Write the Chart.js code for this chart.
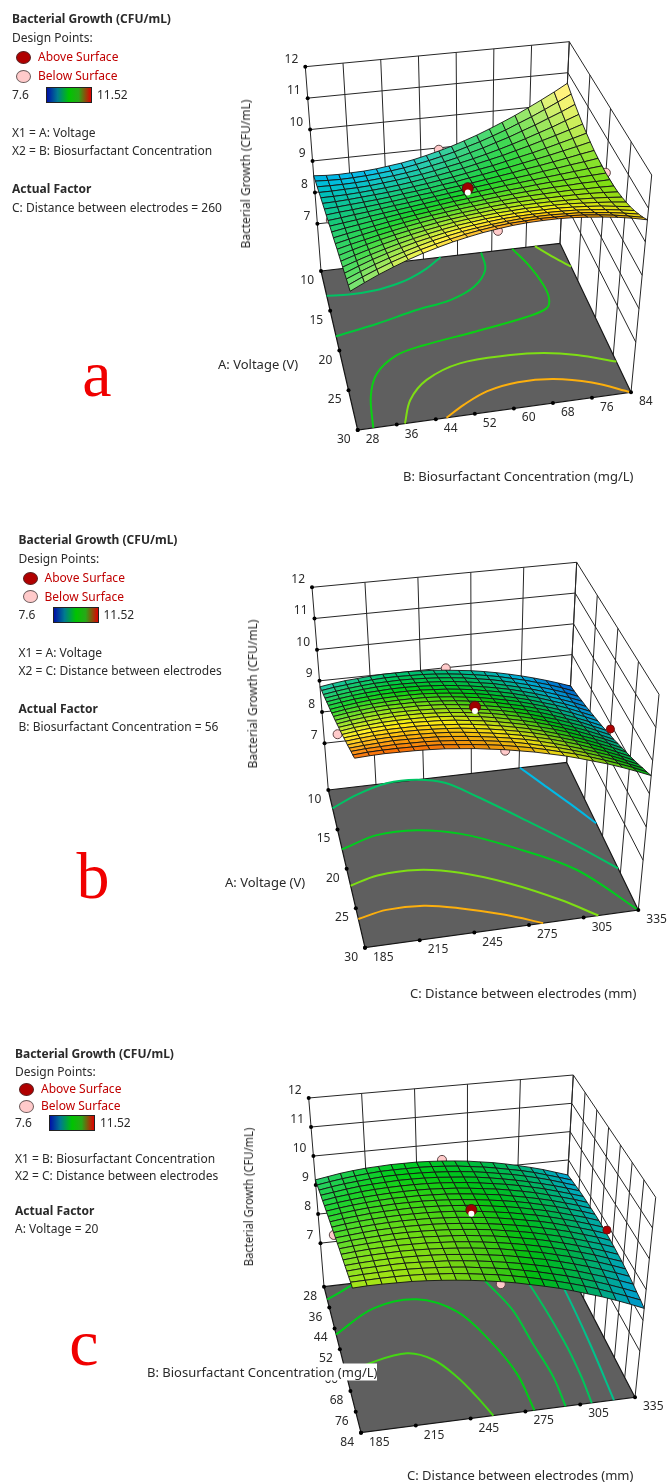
<!doctype html>
<html lang="en">
	<head>
		<meta charset="UTF-8" />
		<title>Bacterial Growth response surfaces</title>
		<script src="https://cdn.jsdelivr.net/npm/chart.js"></script>
		<style>
			html,
			body {
				margin: 0;
				background: #fff;
			}
			#page {
				position: relative;
				width: 670px;
				height: 1482px;
				overflow: hidden;
			}
			canvas {
				position: absolute;
				left: 0;
			}
			.txt {
				position: absolute;
				white-space: nowrap;
				line-height: 1;
				font-family: 'Noto Sans', sans-serif;
				font-size: 12px;
				color: #2a2a2a;
			}
			.mark {
				position: absolute;
				border-radius: 50%;
				box-sizing: border-box;
				width: 15px;
				height: 13px;
			}
			.bar {
				position: absolute;
				box-sizing: border-box;
				width: 46px;
				height: 16px;
				border: 1px solid #222;
				background: linear-gradient(90deg, #0010a8, #007a90 24%, #00c400 50%, #28a818 72%, #e00000);
			}
		</style>
	</head>
	<body>
		<div id="page"></div>

		<script>
			const zTicks = [7, 8, 9, 10, 11, 12]
			const voltageTicks = [10, 15, 20, 25, 30]
			const biosurfactantTicks = [28, 36, 44, 52, 60, 68, 76, 84]
			const distanceTicks = [185, 215, 245, 275, 305, 335]
			const colorRange = [7.6, 11.52]
			const colorStops = [7.6, 8.58, 9.1, 9.56, 10.45, 11.52]

			const legendTitle = 'Bacterial Growth (CFU/mL)'
			const zTitle = 'Bacterial Growth (CFU/mL)'
			const factorsA = ['X1 = A: Voltage', 'X2 = B: Biosurfactant Concentration', 'C: Distance between electrodes = 260']
			const factorsB = ['X1 = A: Voltage', 'X2 = C: Distance between electrodes', 'B: Biosurfactant Concentration = 56']
			const factorsC = ['X1 = B: Biosurfactant Concentration', 'X2 = C: Distance between electrodes', 'A: Voltage = 20']

			// Bacterial growth, rows front to back axis, columns along the floor's long axis
			const surfaceA = [
				[8.53,8.50,8.49,8.50,8.51,8.54,8.59,8.64,8.71,8.80,8.90,9.01,9.14,9.28,9.44,9.61,9.79,9.99,10.20,10.42,10.66],
				[8.60,8.58,8.57,8.58,8.60,8.63,8.67,8.72,8.79,8.87,8.96,9.06,9.18,9.30,9.44,9.59,9.76,9.93,10.12,10.32,10.53],
				[8.66,8.65,8.65,8.66,8.68,8.71,8.75,8.80,8.86,8.94,9.02,9.11,9.22,9.33,9.46,9.59,9.74,9.89,10.06,10.23,10.42],
				[8.72,8.72,8.73,8.74,8.76,8.80,8.84,8.89,8.94,9.01,9.09,9.17,9.26,9.36,9.47,9.59,9.72,9.86,10.00,10.16,10.32],
				[8.79,8.79,8.80,8.82,8.85,8.88,8.92,8.97,9.03,9.09,9.16,9.23,9.32,9.41,9.50,9.61,9.72,9.84,9.96,10.09,10.23],
				[8.85,8.86,8.88,8.91,8.94,8.97,9.01,9.06,9.11,9.17,9.23,9.30,9.38,9.45,9.54,9.63,9.72,9.82,9.93,10.04,10.16],
				[8.91,8.93,8.96,8.99,9.02,9.06,9.11,9.15,9.20,9.26,9.31,9.38,9.44,9.51,9.58,9.66,9.74,9.82,9.91,10.00,10.10],
				[8.96,9.00,9.03,9.07,9.11,9.15,9.20,9.25,9.29,9.35,9.40,9.45,9.51,9.57,9.63,9.70,9.76,9.83,9.90,9.98,10.05],
				[9.02,9.06,9.11,9.15,9.20,9.25,9.29,9.34,9.39,9.44,9.49,9.54,9.59,9.64,9.69,9.74,9.80,9.85,9.91,9.96,10.02],
				[9.08,9.13,9.18,9.24,9.29,9.34,9.39,9.44,9.49,9.54,9.58,9.63,9.67,9.72,9.76,9.80,9.84,9.88,9.92,9.96,10.00],
				[9.13,9.20,9.26,9.32,9.38,9.44,9.49,9.54,9.59,9.64,9.68,9.72,9.76,9.80,9.83,9.87,9.90,9.92,9.95,9.97,9.99],
				[9.18,9.26,9.33,9.40,9.47,9.53,9.59,9.64,9.69,9.74,9.78,9.82,9.86,9.89,9.92,9.94,9.96,9.97,9.99,9.99,10.00],
				[9.23,9.32,9.41,9.49,9.56,9.63,9.69,9.75,9.80,9.85,9.89,9.93,9.96,9.99,10.01,10.02,10.03,10.04,10.03,10.03,10.02],
				[9.29,9.39,9.48,9.57,9.65,9.73,9.80,9.86,9.91,9.96,10.00,10.04,10.07,10.09,10.10,10.11,10.11,10.11,10.10,10.08,10.05],
				[9.33,9.45,9.56,9.66,9.75,9.83,9.90,9.97,10.03,10.08,10.12,10.16,10.18,10.20,10.21,10.21,10.20,10.19,10.17,10.14,10.10],
				[9.38,9.51,9.63,9.74,9.84,9.93,10.01,10.08,10.15,10.20,10.24,10.28,10.30,10.32,10.32,10.32,10.31,10.28,10.25,10.21,10.16],
				[9.43,9.57,9.70,9.82,9.93,10.03,10.12,10.20,10.27,10.32,10.37,10.40,10.43,10.44,10.44,10.44,10.42,10.39,10.35,10.29,10.23],
				[9.47,9.63,9.78,9.91,10.03,10.14,10.23,10.32,10.39,10.45,10.50,10.54,10.56,10.57,10.57,10.56,10.54,10.50,10.45,10.39,10.32],
				[9.52,9.69,9.85,9.99,10.12,10.24,10.35,10.44,10.52,10.58,10.63,10.67,10.70,10.71,10.71,10.69,10.67,10.62,10.57,10.50,10.42],
				[9.56,9.75,9.92,10.08,10.22,10.35,10.46,10.56,10.65,10.72,10.78,10.82,10.84,10.86,10.85,10.84,10.81,10.76,10.70,10.62,10.53],
				[9.60,9.80,9.99,10.16,10.32,10.46,10.58,10.69,10.78,10.86,10.92,10.97,11.00,11.01,11.01,10.99,10.95,10.90,10.84,10.76,10.66]
			]
			const surfaceB = [
				[8.81,8.87,8.92,8.95,8.98,9.00,9.00,9.00,8.98,8.96,8.92,8.87,8.82,8.75,8.67,8.58,8.48,8.37,8.25,8.12,7.98],
				[8.93,8.99,9.03,9.07,9.10,9.12,9.12,9.11,9.10,9.07,9.03,8.98,8.92,8.85,8.77,8.67,8.57,8.45,8.33,8.19,8.04],
				[9.04,9.10,9.15,9.19,9.22,9.23,9.24,9.23,9.21,9.18,9.14,9.09,9.02,8.95,8.86,8.76,8.65,8.53,8.40,8.26,8.10],
				[9.16,9.22,9.27,9.31,9.34,9.35,9.35,9.34,9.32,9.29,9.25,9.19,9.12,9.05,8.95,8.85,8.74,8.61,8.47,8.33,8.17],
				[9.28,9.34,9.39,9.43,9.45,9.47,9.47,9.46,9.43,9.40,9.35,9.29,9.22,9.14,9.05,8.94,8.82,8.69,8.55,8.40,8.23],
				[9.40,9.46,9.51,9.54,9.57,9.58,9.58,9.57,9.54,9.51,9.46,9.40,9.32,9.24,9.14,9.03,8.91,8.77,8.63,8.47,8.30],
				[9.51,9.57,9.62,9.66,9.68,9.69,9.69,9.68,9.65,9.61,9.56,9.50,9.42,9.33,9.23,9.12,8.99,8.86,8.71,8.54,8.37],
				[9.63,9.69,9.74,9.77,9.79,9.80,9.80,9.79,9.76,9.72,9.66,9.60,9.52,9.43,9.33,9.21,9.08,8.94,8.79,8.62,8.44],
				[9.75,9.81,9.85,9.89,9.91,9.91,9.91,9.89,9.86,9.82,9.76,9.70,9.62,9.52,9.42,9.30,9.17,9.02,8.86,8.69,8.51],
				[9.86,9.92,9.97,10.00,10.02,10.02,10.02,10.00,9.97,9.92,9.86,9.79,9.71,9.62,9.51,9.39,9.25,9.10,8.95,8.77,8.59],
				[9.98,10.04,10.08,10.11,10.13,10.13,10.12,10.10,10.07,10.02,9.96,9.89,9.81,9.71,9.60,9.47,9.34,9.19,9.03,8.85,8.67],
				[10.10,10.15,10.19,10.22,10.24,10.24,10.23,10.20,10.17,10.12,10.06,9.99,9.90,9.80,9.69,9.56,9.42,9.27,9.11,8.93,8.74],
				[10.21,10.27,10.30,10.33,10.34,10.34,10.33,10.31,10.27,10.22,10.16,10.08,9.99,9.89,9.78,9.65,9.51,9.36,9.19,9.02,8.83],
				[10.33,10.38,10.42,10.44,10.45,10.45,10.43,10.41,10.37,10.31,10.25,10.17,10.08,9.98,9.86,9.74,9.60,9.44,9.28,9.10,8.91],
				[10.45,10.49,10.53,10.55,10.55,10.55,10.53,10.50,10.46,10.41,10.34,10.26,10.17,10.07,9.95,9.82,9.68,9.53,9.36,9.19,9.00],
				[10.57,10.61,10.64,10.65,10.66,10.65,10.63,10.60,10.56,10.50,10.43,10.35,10.26,10.16,10.04,9.91,9.77,9.62,9.45,9.27,9.08],
				[10.68,10.72,10.75,10.76,10.76,10.75,10.73,10.70,10.65,10.59,10.52,10.44,10.35,10.24,10.13,10.00,9.86,9.70,9.54,9.36,9.17],
				[10.80,10.83,10.85,10.87,10.86,10.85,10.83,10.79,10.74,10.68,10.61,10.53,10.44,10.33,10.21,10.08,9.94,9.79,9.63,9.45,9.26],
				[10.92,10.95,10.96,10.97,10.96,10.95,10.92,10.88,10.83,10.77,10.70,10.62,10.52,10.41,10.30,10.17,10.03,9.88,9.72,9.54,9.36],
				[11.03,11.06,11.07,11.07,11.06,11.05,11.02,10.97,10.92,10.86,10.79,10.70,10.61,10.50,10.38,10.26,10.12,9.97,9.81,9.64,9.45],
				[11.15,11.17,11.18,11.17,11.16,11.14,11.11,11.06,11.01,10.94,10.87,10.78,10.69,10.58,10.47,10.34,10.20,10.06,9.90,9.73,9.55]
			]
			const surfaceC = [
				[9.18,9.25,9.32,9.37,9.41,9.43,9.45,9.45,9.45,9.43,9.40,9.36,9.31,9.24,9.17,9.08,8.98,8.87,8.75,8.61,8.47],
				[9.24,9.31,9.37,9.42,9.46,9.49,9.50,9.50,9.50,9.48,9.45,9.41,9.35,9.29,9.21,9.12,9.03,8.92,8.79,8.66,8.52],
				[9.30,9.37,9.43,9.47,9.51,9.54,9.55,9.55,9.54,9.52,9.49,9.45,9.40,9.33,9.25,9.17,9.07,8.96,8.84,8.70,8.56],
				[9.36,9.42,9.48,9.53,9.56,9.58,9.60,9.60,9.59,9.57,9.53,9.49,9.44,9.37,9.29,9.20,9.10,8.99,8.87,8.74,8.60],
				[9.41,9.48,9.53,9.58,9.61,9.63,9.64,9.64,9.63,9.61,9.57,9.53,9.47,9.40,9.33,9.24,9.14,9.03,8.90,8.77,8.63],
				[9.47,9.53,9.58,9.62,9.65,9.67,9.68,9.68,9.67,9.64,9.61,9.56,9.50,9.44,9.36,9.27,9.17,9.05,8.93,8.80,8.65],
				[9.52,9.58,9.63,9.67,9.70,9.72,9.72,9.72,9.70,9.68,9.64,9.59,9.53,9.47,9.38,9.29,9.19,9.08,8.95,8.82,8.67],
				[9.57,9.63,9.68,9.72,9.74,9.76,9.76,9.76,9.74,9.71,9.67,9.62,9.56,9.49,9.41,9.32,9.21,9.10,8.97,8.84,8.69],
				[9.62,9.68,9.72,9.76,9.78,9.79,9.80,9.79,9.77,9.74,9.70,9.65,9.58,9.51,9.43,9.33,9.23,9.11,8.98,8.85,8.70],
				[9.67,9.73,9.77,9.80,9.82,9.83,9.83,9.82,9.80,9.77,9.72,9.67,9.60,9.53,9.44,9.35,9.24,9.12,8.99,8.85,8.70],
				[9.72,9.77,9.81,9.84,9.86,9.87,9.86,9.85,9.82,9.79,9.74,9.69,9.62,9.54,9.45,9.36,9.25,9.12,8.99,8.85,8.70],
				[9.77,9.81,9.85,9.88,9.89,9.90,9.89,9.88,9.85,9.81,9.76,9.70,9.63,9.55,9.46,9.36,9.25,9.13,8.99,8.85,8.69],
				[9.81,9.86,9.89,9.91,9.93,9.93,9.92,9.90,9.87,9.83,9.78,9.72,9.64,9.56,9.47,9.36,9.25,9.12,8.98,8.84,8.68],
				[9.86,9.90,9.93,9.95,9.96,9.96,9.95,9.92,9.89,9.85,9.79,9.73,9.65,9.56,9.47,9.36,9.24,9.11,8.97,8.82,8.66],
				[9.90,9.94,9.97,9.98,9.99,9.98,9.97,9.94,9.91,9.86,9.80,9.73,9.65,9.56,9.46,9.35,9.23,9.10,8.96,8.80,8.64],
				[9.94,9.98,10.00,10.01,10.02,10.01,9.99,9.96,9.92,9.87,9.81,9.74,9.65,9.56,9.46,9.34,9.22,9.08,8.94,8.78,8.61],
				[9.98,10.01,10.03,10.04,10.04,10.03,10.01,9.98,9.93,9.88,9.81,9.74,9.65,9.55,9.45,9.33,9.20,9.06,8.91,8.75,8.58],
				[10.02,10.05,10.06,10.07,10.07,10.05,10.02,9.99,9.94,9.88,9.81,9.73,9.64,9.54,9.43,9.31,9.18,9.03,8.88,8.71,8.54],
				[10.06,10.08,10.09,10.10,10.09,10.07,10.04,10.00,9.95,9.88,9.81,9.73,9.63,9.53,9.41,9.29,9.15,9.00,8.84,8.67,8.49],
				[10.10,10.11,10.12,10.12,10.11,10.09,10.05,10.01,9.95,9.88,9.81,9.72,9.62,9.51,9.39,9.26,9.12,8.97,8.80,8.63,8.45],
				[10.13,10.15,10.15,10.14,10.13,10.10,10.06,10.01,9.95,9.88,9.80,9.71,9.60,9.49,9.37,9.23,9.08,8.93,8.76,8.58,8.39]
			]

			// Floor contours: [share along first factor, share along second factor]
			const contourLevelsA = [9.1, 9.35, 9.6, 10.0, 10.0, 10.8]
			const contoursA = [
				[[.155,0],[.165,.09],[.158,.2],[.135,.29],[.11,.35],[.06,.43],[0,.5]],
				[[.41,0],[.365,.17],[.31,.34],[.275,.48],[.21,.59],[.11,.66],[0,.67]],
				[[1,.057],[.805,.076],[.67,.12],[.575,.21],[.535,.32],[.49,.535],[.44,.745],[.4,.835],[.34,.86],[.25,.861],[.125,.84],[0,.8]],
				[[0,.895],[.085,.95],[.157,1]],
				[[1,.173],[.86,.215],[.75,.295],[.675,.435],[.665,.63],[.68,.755],[.72,.87],[.794,1]],
				[[1,.325],[.935,.4],[.87,.5],[.84,.62],[.85,.75],[.905,.88],[1,1]]
			]
			const contourLevelsB = [8.55, 9.1, 9.5, 10.0, 10.8]
			const contoursB = [
				[[0,.804],[.125,.867],[.265,.935],[.413,1]],
				[[.116,0],[.05,.11],[0,.245],[0,.37],[.04,.48],[.15,.587],[.34,.742],[.535,.885],[.718,1]],
				[[.376,0],[.315,.148],[.315,.308],[.37,.469],[.49,.64],[.69,.847],[1,1]],
				[[.607,0],[.565,.11],[.563,.265],[.615,.42],[.725,.59],[.868,.745],[1,.854]],
				[[.818,0],[.785,.11],[.79,.25],[.835,.375],[.915,.53],[1,.652]]
			]
			const contourLevelsC = [9.5, 9.55, 9.8, 9.35, 9.15, 8.95]
			const contoursC = [
				[[.087,0],[.055,.05],[0,.13]],
				[[.327,0],[.183,.174],[.157,.355],[.272,.495],[.49,.575],[.735,.625],[1,.633]],
				[[.6,0],[.545,.1],[.51,.25],[.575,.34],[.71,.405],[.86,.45],[1,.483]],
				[[0,.63],[.095,.655],[.305,.71],[.55,.73],[.79,.75],[1,.747]],
				[[0,.79],[.15,.82],[.55,.848],[.8,.85],[1,.842]],
				[[.05,.94],[.21,.945],[.6,.938],[1,.923]]
			]

			// Design points: [first factor, second factor, growth]
			const belowPointsA = [[20,28,9.5],[10,56,8.94],[30,56,10.86],[20,84,10]]
			const sidePointsA = []
			const abovePointsA = [[20,56,10.0]]
			const centerPointsA = [[20,56,9.87]]
			const belowPointsB = [[20,185,9.66],[10,260,8.98],[30,260,10.84]]
			const sidePointsB = [[20,335,8.85]]
			const abovePointsB = [[20,260,10.03]]
			const centerPointsB = [[20,260,9.9]]
			const belowPointsC = [[56,185,9.64],[28,260,9.44],[84,260,9.72]]
			const sidePointsC = [[56,335,8.82]]
			const abovePointsC = [[56,260,9.99]]
			const centerPointsC = [[56,260,9.86]]

			const Z_MIN = 5.5
			const Z_MAX = 12

			const page = document.getElementById('page')

			// Cube corners of each plot on the page
			const panels = [
				{
					top: 0, bottom: 500,
					bl: [321, 271], br: [560, 243.3], fl: [357.7, 430], fr: [631, 392.3],
					tbl: [305.3, 66.7], tbr: [569.3, 41.7], tfl: [345.7, 210], tfr: [651.7, 175],
					surface: surfaceA, contours: contoursA, levels: contourLevelsA,
					below: belowPointsA, side: sidePointsA, above: abovePointsA, center: centerPointsA,
					uTicks: voltageTicks, vTicks: biosurfactantTicks,
					factors: factorsA, letter: 'a', letterAt: [97, 374],
					legendX: 12, legendY: [19, 38, 57, 76, 95, 133, 151, 189, 208],
					zTitleAt: [246, 174], zScale: 1,
					uTitle: 'A: Voltage (V)', uTitleAt: [218, 364],
					vTitle: 'B: Biosurfactant Concentration (mg/L)', vTitleAt: [403, 476]
				},
				{
					top: 500, bottom: 1010,
					bl: [328.3, 790], br: [566.7, 762.3], fl: [365, 947.7], fr: [638.3, 910],
					tbl: [312, 587.3], tbr: [576.7, 562.3], tfl: [353, 729.7], tfr: [659, 694.3],
					surface: surfaceB, contours: contoursB, levels: contourLevelsB,
					below: belowPointsB, side: sidePointsB, above: abovePointsB, center: centerPointsB,
					uTicks: voltageTicks, vTicks: distanceTicks,
					factors: factorsB, letter: 'b', letterAt: [93, 876],
					legendX: 18.5, legendY: [539.7, 558.7, 578, 596.7, 615, 653, 671, 709, 727],
					zTitleAt: [252.7, 694], zScale: 1,
					uTitle: 'A: Voltage (V)', uTitleAt: [225, 882],
					vTitle: 'C: Distance between electrodes (mm)', vTitleAt: [410, 993]
				},
				{
					top: 1010, bottom: 1482,
					bl: [324, 1286.7], br: [563, 1259], fl: [361, 1432.7], fr: [635, 1397.3],
					tbl: [308.7, 1098], tbr: [573.3, 1075], tfl: [349, 1229.7], tfr: [655.7, 1197.3],
					surface: surfaceC, contours: contoursC, levels: contourLevelsC,
					below: belowPointsC, side: sidePointsC, above: abovePointsC, center: centerPointsC,
					uTicks: biosurfactantTicks, vTicks: distanceTicks,
					factors: factorsC, letter: 'c', letterAt: [84, 1343],
					legendX: 15, legendY: [1054, 1071.7, 1089, 1106, 1123, 1159, 1176, 1211, 1229],
					zTitleAt: [249, 1197], zScale: 0.93,
					uTitle: 'B: Biosurfactant Concentration (mg/L)', uTitleAt: [147, 1372], uTitleBox: true,
					vTitle: 'C: Distance between electrodes (mm)', vTitleAt: [407, 1475]
				}
			]

			function lerp(a, b, t) {
				return a + (b - a) * t
			}

			function bilinear(a, b, c, d, u, v, i) {
				return lerp(lerp(a[i], b[i], v), lerp(c[i], d[i], v), u)
			}

			// u: 0 at the back of the floor, v: 0 at the left, z in growth units
			function project(p, u, v, z) {
				const w = (z - Z_MIN) / (Z_MAX - Z_MIN)
				return {
					x: lerp(bilinear(p.bl, p.br, p.fl, p.fr, u, v, 0), bilinear(p.tbl, p.tbr, p.tfl, p.tfr, u, v, 0), w),
					y: lerp(bilinear(p.bl, p.br, p.fl, p.fr, u, v, 1), bilinear(p.tbl, p.tbr, p.tfl, p.tfr, u, v, 1), w)
				}
			}

			function share(value, ticks) {
				return (value - ticks[0]) / (ticks[ticks.length - 1] - ticks[0])
			}

			function rampColor(z) {
				const ramp = [[0, 50, 235], [0, 190, 230], [0, 195, 100], [0, 205, 20], [255, 240, 20], [245, 40, 0]]
				let i = 0
				while (i < colorStops.length - 2 && z > colorStops[i + 1]) i++
				const t = Math.min(1, Math.max(0, (z - colorStops[i]) / (colorStops[i + 1] - colorStops[i])))
				return ramp[i].map((c, k) => lerp(c, ramp[i + 1][k], t))
			}

			// Surface lighting: faces turned left go pale, faces turned right go a little darker
			function litColor(z, slope) {
				const rgb = rampColor(z).map((c) =>
					slope > 0 ? c + (255 - c) * Math.min(0.45, 0.1 * slope) : c * Math.max(0.85, 1 + 0.04 * slope)
				)
				return `rgb(${rgb.map(Math.round).join(',')})`
			}

			function lineSet(points, color, width, tension) {
				return {
					data: points, showLine: true, borderColor: color, borderWidth: width,
					pointRadius: 0, tension: tension || 0, fill: false, clip: false
				}
			}

			function polygonSet(points, fillColor, lineColor, width) {
				return {
					data: points.concat([points[0]]), showLine: true, borderColor: lineColor, borderWidth: width,
					backgroundColor: fillColor, fill: 'shape', pointRadius: 0, clip: false
				}
			}

			function dotSet(points, color, edge, radius) {
				return {
					data: points, showLine: false, pointRadius: radius, pointBackgroundColor: color,
					pointBorderColor: edge, pointBorderWidth: edge === color ? 0 : 1, clip: false
				}
			}

			function buildDatasets(p) {
				const sets = []
				const wallColor = '#262626'
				const zTop = zTicks[zTicks.length - 1]

				// walls
				p.vTicks.forEach((t) => {
					const v = share(t, p.vTicks)
					sets.push(lineSet([project(p, 0, v, Z_MIN), project(p, 0, v, zTop)], wallColor, 1))
				})
				p.uTicks.forEach((t) => {
					const u = share(t, p.uTicks)
					sets.push(lineSet([project(p, u, 1, Z_MIN), project(p, u, 1, zTop)], wallColor, 1))
				})
				zTicks.forEach((z) => {
					sets.push(lineSet([project(p, 0, 0, z), project(p, 0, 1, z), project(p, 1, 1, z)], wallColor, 1))
				})

				// floor and its contours
				sets.push(polygonSet(
					[project(p, 0, 0, Z_MIN), project(p, 0, 1, Z_MIN), project(p, 1, 1, Z_MIN), project(p, 1, 0, Z_MIN)],
					'#5f5f5f', '#161616', 1.2
				))
				p.contours.forEach((path, i) => {
					const points = path.map(([u, v]) => project(p, u, v, Z_MIN))
					sets.push(lineSet(points, `rgb(${rampColor(p.levels[i]).map(Math.round).join(',')})`, 2, 0.35))
				})

				// tick dots
				const dots = zTicks.map((z) => project(p, 0, 0, z))
				p.uTicks.forEach((t) => dots.push(project(p, share(t, p.uTicks), 0, Z_MIN)))
				p.vTicks.forEach((t) => dots.push(project(p, 1, share(t, p.vTicks), Z_MIN)))
				sets.push(dotSet(dots, '#000', '#000', 2))

				const toPoint = ([a, b, z]) => project(p, share(a, p.uTicks), share(b, p.vTicks), z)

				sets.push(dotSet(p.below.map(toPoint), '#ffcaca', '#5c4444', 4.5))

				// surface mesh, back rows first
				const rows = p.surface.length - 1
				for (let i = 0; i < rows; i++) {
					const cols = p.surface[i].length - 1
					for (let j = 0; j < cols; j++) {
						const a = p.surface[i][j]
						const b = p.surface[i][j + 1]
						const c = p.surface[i + 1][j + 1]
						const d = p.surface[i + 1][j]
						const slope = ((b + c - a - d) / 2) * cols
						sets.push(polygonSet(
							[
								project(p, i / rows, j / cols, a),
								project(p, i / rows, (j + 1) / cols, b),
								project(p, (i + 1) / rows, (j + 1) / cols, c),
								project(p, (i + 1) / rows, j / cols, d)
							],
							litColor((a + b + c + d) / 4, slope), '#141414', 0.9
						))
					}
				}

				sets.push(dotSet(p.side.map(toPoint), '#b00000', '#6a1010', 4))
				sets.push(dotSet(p.above.map(toPoint), '#a00000', '#4c1010', 5.5))
				sets.push(dotSet(p.center.map(toPoint), '#ffffff', '#ffffff', 3))

				// later entries paint on top
				sets.forEach((set, i) => {
					set.order = sets.length - i
				})
				return sets
			}

			function addText(text, x, y, opts = {}) {
				const el = document.createElement('div')
				el.className = 'txt'
				el.textContent = text
				el.style.left = `${x}px`
				el.style.top = `${y}px`
				el.style.transform = opts.transform || 'translateY(-50%)'
				if (opts.bold) el.style.fontWeight = '700'
				if (opts.color) el.style.color = opts.color
				if (opts.size) el.style.fontSize = `${opts.size}px`
				if (opts.box) el.style.background = '#fff'
				if (opts.box) el.style.padding = '2px 0'
				page.appendChild(el)
				return el
			}

			function addLegend(p) {
				const x = p.legendX
				const y = p.legendY
				addText(legendTitle, x, y[0], { bold: true })
				addText('Design Points:', x, y[1])
				;[['#b00000', '#5a2020', 'Above Surface'], ['#ffcaca', '#6a5a5a', 'Below Surface']].forEach((row, i) => {
					const mark = document.createElement('div')
					mark.className = 'mark'
					mark.style.left = `${x + 4}px`
					mark.style.top = `${y[2 + i] - 6.5}px`
					mark.style.background = row[0]
					mark.style.border = `1px solid ${row[1]}`
					page.appendChild(mark)
					addText(row[2], x + 26, y[2 + i], { color: '#c00000' })
				})
				addText(String(colorRange[0]), x, y[4])
				const bar = document.createElement('div')
				bar.className = 'bar'
				bar.style.left = `${x + 34}px`
				bar.style.top = `${y[4] - 8}px`
				page.appendChild(bar)
				addText(String(colorRange[1]), x + 85, y[4])
				addText(p.factors[0], x, y[5])
				addText(p.factors[1], x, y[6])
				addText('Actual Factor', x, y[7], { bold: true })
				addText(p.factors[2], x, y[8])
			}

			function addAxisText(chart, p) {
				const sx = chart.scales.x
				const sy = chart.scales.y
				const at = (pt) => [sx.getPixelForValue(pt.x), sy.getPixelForValue(pt.y) + p.top]
				const endAlign = 'translate(-100%,-50%)'

				zTicks.forEach((z) => {
					const [x, y] = at(project(p, 0, 0, z))
					addText(String(z), x - 7, y - 8, { transform: endAlign })
				})
				p.uTicks.forEach((t) => {
					const [x, y] = at(project(p, share(t, p.uTicks), 0, Z_MIN))
					addText(String(t), x - 7, y + 9, { transform: endAlign })
				})
				p.vTicks.forEach((t) => {
					const [x, y] = at(project(p, 1, share(t, p.vTicks), Z_MIN))
					addText(String(t), x + 8, y + 9)
				})

				addText(zTitle, p.zTitleAt[0], p.zTitleAt[1], {
					transform: `translate(-50%,-50%) rotate(-90deg) scaleX(${p.zScale})`
				})
				addText(p.uTitle, p.uTitleAt[0], p.uTitleAt[1], { box: p.uTitleBox, size: 13 })
				addText(p.vTitle, p.vTitleAt[0], p.vTitleAt[1], { size: 13 })

				addText(p.letter, p.letterAt[0], p.letterAt[1], {
					transform: 'translate(-50%,-50%)', color: '#f00000', size: 66
				}).style.fontFamily = "'Liberation Serif', serif"
			}

			panels.forEach((p) => {
				const canvas = document.createElement('canvas')
				const height = p.bottom - p.top
				canvas.width = 670
				canvas.height = height
				canvas.style.top = `${p.top}px`
				canvas.style.width = '670px'
				canvas.style.height = `${height}px`
				page.appendChild(canvas)

				const chart = new Chart(canvas.getContext('2d'), {
					type: 'scatter',
					data: { datasets: buildDatasets(p) },
					options: {
						responsive: false,
						animation: false,
						devicePixelRatio: 1,
						events: [],
						layout: { padding: 0, autoPadding: false },
						plugins: { legend: { display: false }, tooltip: { enabled: false } },
						scales: {
							x: { type: 'linear', display: false, min: 0, max: 670 },
							y: { type: 'linear', display: false, min: p.top, max: p.bottom, reverse: true }
						}
					}
				})

				addLegend(p)
				addAxisText(chart, p)
			})
		</script>
	</body>
</html>
